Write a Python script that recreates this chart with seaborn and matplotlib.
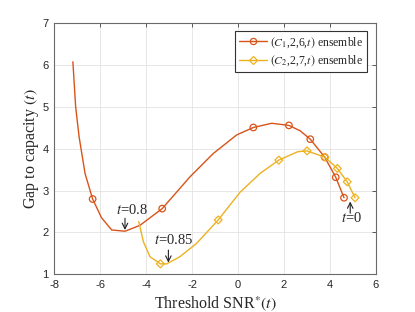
import matplotlib
matplotlib.use("Agg")
import matplotlib.pyplot as plt
from matplotlib.lines import Line2D
import seaborn as sns
import pandas as pd

# ---- data ----
c1_x = [-7.19, -7.07, -6.92, -6.66, -6.33, -5.94, -5.50, -4.92, -4.27, -3.30,
        -2.09, -1.07, -0.06, 0.67, 1.47, 2.22, 2.71, 3.15, 3.78, 4.26, 4.62]
c1_y = [6.08, 5.01, 4.29, 3.41, 2.80, 2.35, 2.06, 2.03, 2.17, 2.57,
        3.33, 3.89, 4.33, 4.51, 4.61, 4.56, 4.43, 4.23, 3.80, 3.32, 2.83]
c1_mx = [-6.33, -3.30, 0.67, 2.22, 3.15, 3.78, 4.26, 4.62]
c1_my = [2.80, 2.57, 4.51, 4.56, 4.23, 3.80, 3.32, 2.83]

c2_x = [-4.32, -4.12, -3.83, -3.38, -3.10, -2.53, -1.80, -0.86, 0.09, 0.96,
        1.78, 2.60, 3.01, 3.79, 4.33, 4.76, 5.10]
c2_y = [2.26, 1.78, 1.42, 1.25, 1.25, 1.42, 1.74, 2.30, 2.96, 3.41,
        3.73, 3.93, 3.95, 3.80, 3.53, 3.21, 2.83]
c2_mx = [-3.38, -0.86, 1.78, 3.01, 3.79, 4.33, 4.76, 5.10]
c2_my = [1.25, 2.30, 3.73, 3.95, 3.80, 3.53, 3.21, 2.83]

labels = [r"$(C_1$,2,6,$t)$ ensemble", r"$(C_2$,2,7,$t)$ ensemble"]
x_ticks = [-8, -6, -4, -2, 0, 2, 4, 6]
y_ticks = [1, 2, 3, 4, 5, 6, 7]

col1 = "#D95319"
col2 = "#EDB120"

sns.set_style("white")
plt.rcParams["font.family"] = ["Liberation Sans", "DejaVu Sans"]
plt.rcParams["mathtext.fontset"] = "stix"
plt.rcParams["axes.unicode_minus"] = False

fig = plt.figure(figsize=(4.15, 3.12), dpi=100)
ax = fig.add_axes([0.1308, 0.1208, 0.7745, 0.8045])

df1 = pd.DataFrame({"x": c1_x, "y": c1_y})
df2 = pd.DataFrame({"x": c2_x, "y": c2_y})
sns.lineplot(data=df1, x="x", y="y", sort=False, color=col1, lw=1.0, ax=ax, zorder=3)
sns.lineplot(data=df2, x="x", y="y", sort=False, color=col2, lw=1.0, ax=ax, zorder=3)
sns.scatterplot(x=c1_mx, y=c1_my, marker="o", s=22, facecolors="none",
                edgecolor=col1, linewidth=0.9, ax=ax, zorder=4)
sns.scatterplot(x=c2_mx, y=c2_my, marker="D", s=16, facecolors="none",
                edgecolor=col2, linewidth=0.9, ax=ax, zorder=4)
for coll, c in zip(ax.collections[-2:], [col1, col2]):
    coll.set_facecolor("none")
    coll.set_edgecolor(c)

ax.set_xlim(-8, 6)
ax.set_ylim(1, 7)
ax.set_xticks(x_ticks)
ax.set_yticks(y_ticks)
ax.set_xticklabels([str(v) for v in x_ticks])
ax.set_yticklabels([str(v) for v in y_ticks])
ax.tick_params(direction="in", length=3, width=0.6, colors="#404040",
               labelsize=8, top=True, right=True, labelcolor="#262626", pad=4)
ax.grid(True, color="#e3e3e3", lw=0.6)
ax.set_axisbelow(True)
for sp in ax.spines.values():
    sp.set_color("#6a6a6a")
    sp.set_linewidth(0.8)

serif = ["Liberation Serif", "DejaVu Serif"]
ax.set_xlabel(r"Threshold SNR$^{*}(t)$", family=serif, fontsize=11.5, labelpad=3)
ax.set_ylabel(r"Gap to capacity $(t)$", family=serif, fontsize=11.5, labelpad=1)

h1 = Line2D([], [], color=col1, lw=1.0, marker="o", ms=4.5, mfc="none", mew=0.9)
h2 = Line2D([], [], color=col2, lw=1.0, marker="D", ms=3.8, mfc="none", mew=0.9)
leg = ax.legend([h1, h2], labels, loc="upper right", bbox_to_anchor=(0.974, 0.97),
                prop={"family": serif, "size": 8.5}, frameon=True, fancybox=False,
                edgecolor="#333333", framealpha=1, handlelength=2.3,
                handletextpad=0.3, borderpad=0.35, labelspacing=0.35, borderaxespad=0)
leg.get_frame().set_linewidth(0.8)

arrowprops = dict(arrowstyle="->", color="#222222", lw=0.8, shrinkA=0, shrinkB=0)
ax.annotate("", xy=(-4.92, 2.06), xytext=(-4.92, 2.34), arrowprops=arrowprops)
ax.text(-4.63, 2.54, r"$t$=0.8", family=serif, fontsize=10.5, ha="center", va="center")
ax.annotate("", xy=(-3.03, 1.28), xytext=(-3.03, 1.58), arrowprops=arrowprops)
ax.text(-2.82, 1.82, r"$t$=0.85", family=serif, fontsize=10.5, ha="center", va="center")
ax.annotate("", xy=(4.89, 2.74), xytext=(4.89, 2.46), arrowprops=arrowprops)
ax.text(4.95, 2.34, r"$t$=0", family=serif, fontsize=10.5, ha="center", va="center")

fig.savefig("out.png", dpi=100)
